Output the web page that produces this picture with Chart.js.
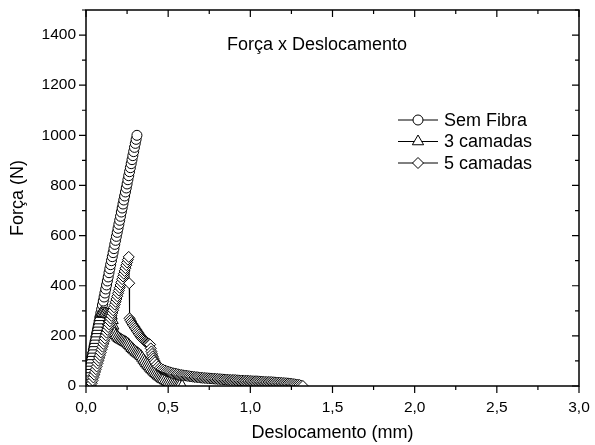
<!DOCTYPE html>
<html>
<head>
<meta charset="utf-8">
<title>Força x Deslocamento</title>
<script src="https://cdn.jsdelivr.net/npm/chart.js@4.4.1/dist/chart.umd.min.js"></script>
<style>
  html, body { margin: 0; padding: 0; background: #fff; }
  #wrap { width: 595px; height: 445px; }
</style>
</head>
<body>
<div id="wrap"><canvas id="chart" width="595" height="445"></canvas></div>
<script>
/* ---- Data ---- */
const SERIES_NAMES = ['Sem Fibra', '3 camadas', '5 camadas'];

const SEM_FIBRA_X = [
  0.000, 0.005, 0.010, 0.015, 0.020, 0.025, 0.030, 0.035, 0.040, 0.045,
  0.050, 0.055, 0.060, 0.065, 0.070, 0.075, 0.080, 0.085, 0.090, 0.095,
  0.100, 0.105, 0.110, 0.115, 0.120, 0.125, 0.130, 0.135, 0.140, 0.145,
  0.150, 0.155, 0.160, 0.165, 0.170, 0.175, 0.180, 0.185, 0.190, 0.195,
  0.200, 0.205, 0.210, 0.215, 0.220, 0.225, 0.230, 0.235, 0.240, 0.245,
  0.250, 0.255, 0.260, 0.265, 0.270, 0.275, 0.280, 0.285, 0.290, 0.295,
  0.300, 0.305, 0.310,
];
const SEM_FIBRA_Y = [
  0, 16, 32, 48, 65, 81, 97, 113, 129, 145,
  161, 177, 194, 210, 226, 242, 258, 274, 290, 306,
  323, 339, 355, 371, 387, 403, 419, 435, 452, 468,
  484, 500, 516, 532, 548, 565, 581, 597, 613, 629,
  645, 661, 677, 694, 710, 726, 742, 758, 774, 790,
  806, 823, 839, 855, 871, 887, 903, 919, 935, 952,
  968, 984, 1000,
];

const CAMADAS3_X = [
  0.000, 0.004, 0.008, 0.012, 0.016, 0.020, 0.024, 0.028, 0.032, 0.036,
  0.040, 0.044, 0.048, 0.052, 0.056, 0.060, 0.064, 0.068, 0.072, 0.076,
  0.080, 0.084, 0.088, 0.094, 0.100, 0.108, 0.116, 0.124, 0.132, 0.140,
  0.148, 0.156, 0.162, 0.166, 0.170, 0.175, 0.182, 0.190, 0.198, 0.206,
  0.214, 0.222, 0.230, 0.238, 0.246, 0.254, 0.262, 0.270, 0.278, 0.286,
  0.294, 0.302, 0.310, 0.318, 0.326, 0.334, 0.342, 0.350, 0.358, 0.366,
  0.374, 0.382, 0.390, 0.398, 0.406, 0.414, 0.422, 0.430, 0.438, 0.446,
  0.454, 0.462, 0.470, 0.480, 0.490, 0.500, 0.510, 0.520, 0.530, 0.540,
  0.550, 0.560, 0.570, 0.585,
];
const CAMADAS3_Y = [
  0, 14, 27, 40, 53, 66, 79, 92, 105, 118,
  131, 144, 157, 170, 183, 196, 209, 222, 235, 248,
  261, 274, 287, 292, 290, 288, 290, 287, 285, 286,
  284, 280, 262, 240, 222, 210, 202, 196, 191, 187,
  184, 181, 178, 175, 172, 168, 163, 157, 151, 146,
  141, 136, 132, 128, 124, 119, 112, 104, 97, 90,
  84, 78, 72, 66, 61, 56, 51, 46, 41, 37,
  33, 29, 26, 22, 18, 15, 12, 9, 7, 5,
  3, 2, 1, 0,
];

const CAMADAS5_X = [
  0.030, 0.035, 0.040, 0.045, 0.050, 0.055, 0.060, 0.065, 0.070, 0.075,
  0.080, 0.085, 0.090, 0.095, 0.100, 0.105, 0.110, 0.115, 0.120, 0.125,
  0.130, 0.135, 0.140, 0.145, 0.150, 0.155, 0.160, 0.165, 0.170, 0.175,
  0.180, 0.185, 0.190, 0.195, 0.200, 0.205, 0.210, 0.215, 0.220, 0.225,
  0.230, 0.235, 0.240, 0.245, 0.250, 0.255, 0.260, 0.263, 0.265, 0.270,
  0.276, 0.282, 0.288, 0.294, 0.300, 0.306, 0.312, 0.318, 0.324, 0.330,
  0.336, 0.342, 0.348, 0.354, 0.360, 0.366, 0.372, 0.378, 0.384, 0.390,
  0.394, 0.398, 0.402, 0.406, 0.410, 0.415,
  0.42, 0.43, 0.44, 0.45, 0.46, 0.47, 0.48, 0.49, 0.50, 0.51,
  0.52, 0.53, 0.54, 0.55, 0.56, 0.57, 0.58, 0.59, 0.60, 0.61,
  0.62, 0.63, 0.64, 0.65, 0.66, 0.67, 0.68, 0.69, 0.70, 0.71,
  0.72, 0.73, 0.74, 0.75, 0.76, 0.77, 0.78, 0.79, 0.80, 0.81,
  0.82, 0.83, 0.84, 0.85, 0.86, 0.87, 0.88, 0.89, 0.90, 0.91,
  0.92, 0.93, 0.94, 0.95, 0.96, 0.97, 0.98, 0.99, 1.00, 1.01,
  1.02, 1.03, 1.04, 1.05, 1.06, 1.07, 1.08, 1.09, 1.10, 1.11,
  1.12, 1.13, 1.14, 1.15, 1.16, 1.17, 1.18, 1.19, 1.20, 1.21,
  1.22, 1.23, 1.24, 1.25, 1.26, 1.27, 1.28, 1.29, 1.30, 1.31,
  1.32,
];
const CAMADAS5_Y = [
  0, 11, 22, 34, 45, 56, 67, 78, 90, 101,
  112, 123, 134, 146, 157, 168, 179, 190, 202, 213,
  224, 235, 246, 258, 269, 280, 291, 302, 314, 325,
  336, 347, 358, 370, 381, 392, 403, 414, 426, 437,
  448, 459, 470, 482, 493, 504, 515, 410, 270, 262,
  255, 248, 242, 236, 230, 224, 218, 212, 206, 200,
  195, 190, 186, 182, 178, 175, 172, 170, 168, 165,
  150, 138, 128, 118, 110, 102,
  95, 86, 78, 72, 68, 65, 62, 59, 57, 55,
  53, 51, 50, 48, 47, 45, 44, 43, 42, 41,
  40, 39, 38, 37, 36, 35.5, 35, 34, 33, 32.5,
  32, 31.5, 31, 30.5, 30, 29.5, 29, 28.5, 28, 27.5,
  27, 26.5, 26, 25.5, 25, 24.5, 24, 24, 24, 23.5,
  23, 22.5, 22, 21.5, 21, 21, 21, 20.5, 20, 19.5,
  19, 19, 19, 18.5, 18, 17.5, 17, 16.5, 16, 16,
  16, 15.5, 15, 14.5, 14, 13.5, 13, 12.5, 12, 11.5,
  11, 10.5, 10, 9, 8, 7, 6, 5, 4, 2,
  0,
];

// axis ticks (labels on the major ones)
const X_TICKS = [0, 0.25, 0.5, 0.75, 1, 1.25, 1.5, 1.75, 2, 2.25, 2.5, 2.75, 3];
const Y_TICKS = [0, 100, 200, 300, 400, 500, 600, 700, 800, 900, 1000, 1100, 1200, 1300, 1400, 1500];
const X_MAJOR = 0.5;
const Y_MAJOR = 200;

const FONT = "'Liberation Sans', Arial, sans-serif";
const MARKERS = [
  { style: 'circle', radius: 5 },
  { style: 'triangle', radius: 6.5 },
  { style: 'rectRot', radius: 5.5 },
];

function toPoints(xs, ys) {
  return xs.map((x, i) => ({ x, y: ys[i] }));
}

/* ---- Marker drawing for the legend ---- */
function drawMarker(ctx, style, r, x, y) {
  ctx.beginPath();
  if (style === 'circle') {
    ctx.arc(x, y, r, 0, Math.PI * 2);
  } else if (style === 'triangle') {
    const h = r * Math.sqrt(3) / 2;
    ctx.moveTo(x, y - r);
    ctx.lineTo(x + h, y + r / 2);
    ctx.lineTo(x - h, y + r / 2);
    ctx.closePath();
  } else {
    ctx.moveTo(x - r, y);
    ctx.lineTo(x, y - r);
    ctx.lineTo(x + r, y);
    ctx.lineTo(x, y + r);
    ctx.closePath();
  }
  ctx.fillStyle = '#fff';
  ctx.fill();
  ctx.stroke();
}

/* ---- Frame, mirrored ticks, inner title and legend ---- */
const framePlugin = {
  id: 'frame',
  afterDraw(chart) {
    const { ctx, chartArea: a, scales } = chart;
    ctx.save();
    ctx.strokeStyle = '#000';
    ctx.lineWidth = 1.5;
    ctx.strokeRect(a.left, a.top, a.right - a.left, a.bottom - a.top);

    ctx.lineWidth = 1.2;
    ctx.beginPath();
    Y_TICKS.forEach((v) => {
      const py = scales.y.getPixelForValue(v);
      const len = v % Y_MAJOR === 0 ? 7 : 4;
      ctx.moveTo(a.left, py); ctx.lineTo(a.left - len, py);
      ctx.moveTo(a.right, py); ctx.lineTo(a.right - len, py);
    });
    X_TICKS.forEach((v) => {
      const px = scales.x.getPixelForValue(v);
      const len = Math.abs(v / X_MAJOR - Math.round(v / X_MAJOR)) < 1e-6 ? 7 : 4;
      ctx.moveTo(px, a.bottom); ctx.lineTo(px, a.bottom + len);
      ctx.moveTo(px, a.top); ctx.lineTo(px, a.top + len);
    });
    ctx.stroke();

    // title inside the plot
    ctx.fillStyle = '#000';
    ctx.font = `18px ${FONT}`;
    ctx.textAlign = 'center';
    ctx.textBaseline = 'middle';
    ctx.fillText('Força x Deslocamento', 317, 45);

    // legend
    const rows = [120, 141.5, 163];
    ctx.textAlign = 'left';
    SERIES_NAMES.forEach((name, i) => {
      const y = rows[i];
      ctx.lineWidth = 1;
      ctx.strokeStyle = '#000';
      ctx.beginPath();
      ctx.moveTo(398, y); ctx.lineTo(438, y);
      ctx.stroke();
      drawMarker(ctx, MARKERS[i].style, MARKERS[i].radius, 418, y);
      ctx.fillStyle = '#000';
      ctx.fillText(name, 444, y + 1);
    });
    ctx.restore();
  },
};

function makeDataset(i, xs, ys, order) {
  return {
    label: SERIES_NAMES[i],
    data: toPoints(xs, ys),
    showLine: true,
    borderColor: '#000',
    borderWidth: 1,
    pointStyle: MARKERS[i].style,
    pointRadius: MARKERS[i].radius,
    pointBackgroundColor: '#fff',
    pointBorderColor: '#000',
    pointBorderWidth: 1,
    order,
  };
}

const ctx = document.getElementById('chart').getContext('2d');
new Chart(ctx, {
  type: 'scatter',
  data: {
    datasets: [
      makeDataset(0, SEM_FIBRA_X, SEM_FIBRA_Y, 2),
      makeDataset(1, CAMADAS3_X, CAMADAS3_Y, 1),
      makeDataset(2, CAMADAS5_X, CAMADAS5_Y, 0),
    ],
  },
  options: {
    responsive: false,
    animation: false,
    layout: { padding: { left: 0, right: 16, top: 10, bottom: 0 } },
    plugins: {
      legend: { display: false },
      tooltip: { enabled: false },
    },
    scales: {
      x: {
        type: 'linear',
        min: 0,
        max: 3,
        grid: { display: false, drawTicks: false },
        border: { display: false },
        ticks: {
          stepSize: X_MAJOR,
          includeBounds: false,
          autoSkip: false,
          maxRotation: 0,
          padding: 12,
          color: '#000',
          font: { family: FONT, size: 15.5 },
          callback: (v) => v.toFixed(1).replace('.', ','),
        },
        title: {
          display: true,
          text: 'Deslocamento (mm)',
          color: '#000',
          font: { family: FONT, size: 18 },
          padding: { top: 0, bottom: 1 },
        },
        afterFit: (s) => {
          s.height = 59;
          s.paddingLeft = 0;
          s.paddingRight = 0;
        },
      },
      y: {
        min: 0,
        max: 1500,
        grid: { display: false, drawTicks: false },
        border: { display: false },
        ticks: {
          stepSize: Y_MAJOR,
          includeBounds: false,
          padding: 10,
          color: '#000',
          font: { family: FONT, size: 15.5 },
          callback: (v) => String(v),
        },
        title: {
          display: true,
          text: 'Força (N)',
          color: '#000',
          font: { family: FONT, size: 18 },
          padding: { top: 7, bottom: 0 },
        },
        afterFit: (s) => {
          s.width = 86;
          s.paddingTop = 0;
          s.paddingBottom = 0;
        },
      },
    },
  },
  plugins: [framePlugin],
});
</script>
</body>
</html>
